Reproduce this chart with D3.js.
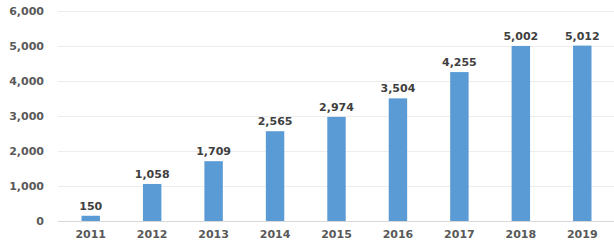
<!DOCTYPE html>
<html>
<head>
<meta charset="utf-8">
<script src="https://cdnjs.cloudflare.com/ajax/libs/d3/7.8.5/d3.min.js"></script>
<style>
  body { margin: 0; background: #fff; }
  text { font-family: "DejaVu Sans", Verdana, sans-serif; font-weight: bold; font-size: 11px; }
</style>
</head>
<body>
<script>
  /* data */
  var years = ["2011", "2012", "2013", "2014", "2015", "2016", "2017", "2018", "2019"];
  var values = [150, 1058, 1709, 2565, 2974, 3504, 4255, 5002, 5012];
  var yTicks = [0, 1000, 2000, 3000, 4000, 5000, 6000];

  var width = 614;
  var height = 246;
  var margin = { top: 11, left: 60, right: 1, bottom: 25 };

  var svg = d3.select("body")
    .append("svg")
    .attr("width", width)
    .attr("height", height);

  var xScale = d3.scaleBand()
    .domain(years)
    .range([margin.left, width - margin.right])
    .paddingInner(0.7)
    .paddingOuter(0.35);

  var yScale = d3.scaleLinear()
    .domain([0, 6000])
    .range([height - margin.bottom, margin.top]);

  // gridlines
  svg.append("g")
    .selectAll("line")
    .data(yTicks)
    .enter()
    .append("line")
    .attr("x1", 58)
    .attr("x2", width)
    .attr("y1", function(d) { return yScale(d) + 0.5; })
    .attr("y2", function(d) { return yScale(d) + 0.5; })
    .attr("stroke", function(d) { return d === 0 ? "#d9d9d9" : "#ededed"; })
    .attr("stroke-width", 1);

  // y axis labels
  var yAxis = svg.append("g")
    .attr("transform", "translate(44,0)")
    .call(d3.axisLeft(yScale).tickValues(yTicks).tickSize(0).tickPadding(0).tickFormat(d3.format(",")));
  yAxis.select(".domain").remove();
  yAxis.selectAll("text")
    .attr("fill", "#595959")
    .style("font-size", "11px")
    .style("font-family", "'DejaVu Sans', Verdana, sans-serif");

  // x axis labels
  var xAxis = svg.append("g")
    .attr("transform", "translate(0," + (height - margin.bottom) + ")")
    .call(d3.axisBottom(xScale).tickSize(0).tickPadding(9));
  xAxis.select(".domain").remove();
  xAxis.selectAll("text")
    .attr("fill", "#595959")
    .style("font-size", "11px")
    .style("font-family", "'DejaVu Sans', Verdana, sans-serif");

  // bars
  svg.selectAll("rect.bar")
    .data(values)
    .enter()
    .append("rect")
    .attr("class", "bar")
    .attr("x", function(d, i) { return xScale(years[i]); })
    .attr("y", function(d) { return yScale(d); })
    .attr("width", xScale.bandwidth())
    .attr("height", function(d) { return yScale(0) - yScale(d); })
    .attr("fill", "#5b9bd5");

  // value labels
  svg.selectAll("text.val")
    .data(values)
    .enter()
    .append("text")
    .attr("class", "val")
    .attr("x", function(d, i) { return xScale(years[i]) + xScale.bandwidth() / 2; })
    .attr("y", function(d) { return yScale(d) - 6; })
    .attr("text-anchor", "middle")
    .attr("fill", "#404040")
    .text(function(d) { return d3.format(",")(d); });
</script>
</body>
</html>
